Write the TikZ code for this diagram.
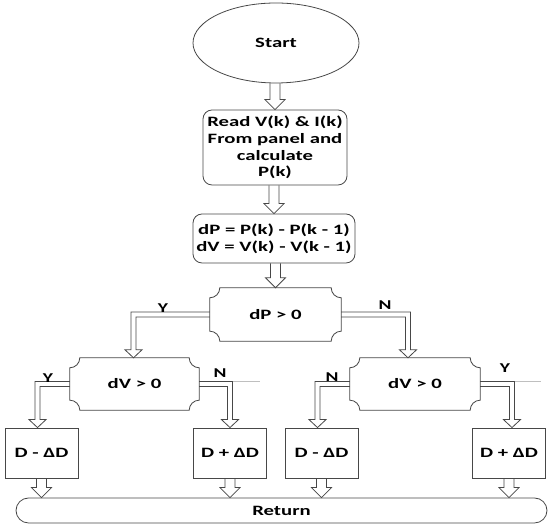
\documentclass[tikz,border=0pt]{standalone}
\usepackage{fontspec}
\setmainfont{Carlito}[FakeStretch=1.45]
\usetikzlibrary{shapes.geometric,calc}
\tikzset{
  conn/.style={draw=black!72, line width=0.8pt},
  txt/.style={font=\bfseries\fontsize{14.3}{16.7}\selectfont, text=black, align=center, inner sep=0pt},
  startbox/.style={txt, ellipse, conn, minimum width=166pt, minimum height=80pt},
  procbox/.style={txt, rectangle, conn, rounded corners=9pt},
  decbox/.style={txt, rectangle, draw=none},
  dbox/.style={txt, rectangle, conn, minimum width=73pt, minimum height=50pt},
  lbl/.style={font=\bfseries\fontsize{13.5}{15}\selectfont, inner sep=0pt},
  ext/.style={draw=black!25, line width=0.8pt}
}
\newcommand\decshape[1]{\draw[conn] ([xshift=10pt]#1.north west) -- ([xshift=-10pt]#1.north east) arc[start angle=180,end angle=270,radius=10pt] -- ([yshift=10pt]#1.south east) arc[start angle=90,end angle=180,radius=10pt] -- ([xshift=10pt]#1.south west) arc[start angle=0,end angle=90,radius=10pt] -- ([yshift=-10pt]#1.north west) arc[start angle=270,end angle=360,radius=10pt] -- cycle;}
\newcommand\harrow[2]{\draw[conn] let \p1=(#1), \p2=(#2) in ({\x2-5pt},\y1) -- ({\x2-5pt},{\y2+10pt}) -- ({\x2-10pt},{\y2+10pt}) -- (\x2,\y2) -- ({\x2+10pt},{\y2+10pt}) -- ({\x2+5pt},{\y2+10pt}) -- ({\x2+5pt},\y1);}
% #1 start, #2 tip, #3 sign (1 right, -1 left)
\newcommand\branch[3]{\draw[conn] let \p1=(#1), \p2=(#2) in (\x1,{\y1+2.5pt}) -- ({\x2+(#3)*2.5pt},{\y1+2.5pt}) -- ({\x2+(#3)*2.5pt},{\y2+8pt}) -- ({\x2+(#3)*8.5pt},{\y2+8pt}) -- (\x2,\y2) -- ({\x2-(#3)*8.5pt},{\y2+8pt}) -- ({\x2-(#3)*2.5pt},{\y2+8pt}) -- ({\x2-(#3)*2.5pt},{\y1-2.5pt}) -- (\x1,{\y1-2.5pt});}
\begin{document}
\begin{tikzpicture}[x=1pt,y=1pt]
\useasboundingbox[fill=white] (0,0) rectangle (550,529);
\node[startbox] (start) at (276,486) {Start};
\node[procbox, minimum width=144pt, minimum height=75pt] (read) at (275,381.5) {Read V(k) \& I(k)\\From panel and\\calculate\\P(k)};
\node[procbox, minimum width=162pt, minimum height=49pt] (diff) at (274,290.5) {dP = P(k) - P(k - 1)\\dV = V(k) - V(k - 1)};
\node[decbox, minimum width=131pt, minimum height=53pt] (dp) at (275.5,214.5) {dP > 0};
\node[decbox, minimum width=129pt, minimum height=52pt] (dvl) at (134.5,145) {dV > 0};
\node[decbox, minimum width=130pt, minimum height=52pt] (dvr) at (415,145) {dV > 0};
\decshape{dp}
\decshape{dvl}
\decshape{dvr}
\node[dbox] (b1) at (41.5,76) {D - ΔD};
\node[dbox] (b2) at (230,76) {D + ΔD};
\node[dbox] (b3) at (321.5,76) {D - ΔD};
\node[dbox] (b4) at (509,76) {D + ΔD};
\node[txt, conn, rectangle, rounded corners=12.5pt, minimum width=531pt, minimum height=25pt] (ret) at (281.5,18.5) {Return};
% straight hollow arrows
\harrow{start.south}{read.north}
\harrow{read.south}{diff.north}
\harrow{diff.south}{dp.north}
\coordinate (r1) at (b1.south |- ret.north);
\coordinate (r2) at (b2.south |- ret.north);
\coordinate (r3) at (b3.south |- ret.north);
\coordinate (r4) at (b4.south |- ret.north);
\harrow{b1.south}{r1}
\harrow{b2.south}{r2}
\harrow{b3.south}{r3}
\harrow{b4.south}{r4}
% branches
\coordinate (t1) at ([xshift=-1pt]dvl.north);
\coordinate (t2) at ([xshift=-7pt]dvr.north);
\coordinate (t3) at ([xshift=-4pt]b1.north);
\coordinate (t4) at (b2.north);
\coordinate (t5) at ([xshift=-4pt]b3.north);
\coordinate (t6) at ([xshift=3pt]b4.north);
\branch{dp.west}{t1}{-1}
\branch{dp.east}{t2}{1}
\branch{dvl.west}{t3}{-1}
\branch{dvl.east}{t4}{1}
\branch{dvr.west}{t5}{-1}
\branch{dvr.east}{t6}{1}
% faint extensions
\coordinate (e1) at ([xshift=2.5pt,yshift=2.5pt]t4 |- dvl.east);
\coordinate (e1b) at ([xshift=27pt]e1);
\draw[ext] (e1) -- (e1b);
\coordinate (e2) at ([xshift=2.5pt,yshift=2.5pt]t6 |- dvr.east);
\coordinate (e2b) at ([xshift=26pt]e2);
\draw[ext] (e2) -- (e2b);
% labels
\node[lbl] (ly1) at (163,221) {Y};
\node[lbl] (ln1) at (385,224) {N};
\node[lbl] (ly2) at (48,151) {Y};
\node[lbl] (ln2) at (220,156) {N};
\node[lbl] (ln3) at (332,152) {N};
\node[lbl] (ly3) at (505,161) {Y};
\end{tikzpicture}
\end{document}
